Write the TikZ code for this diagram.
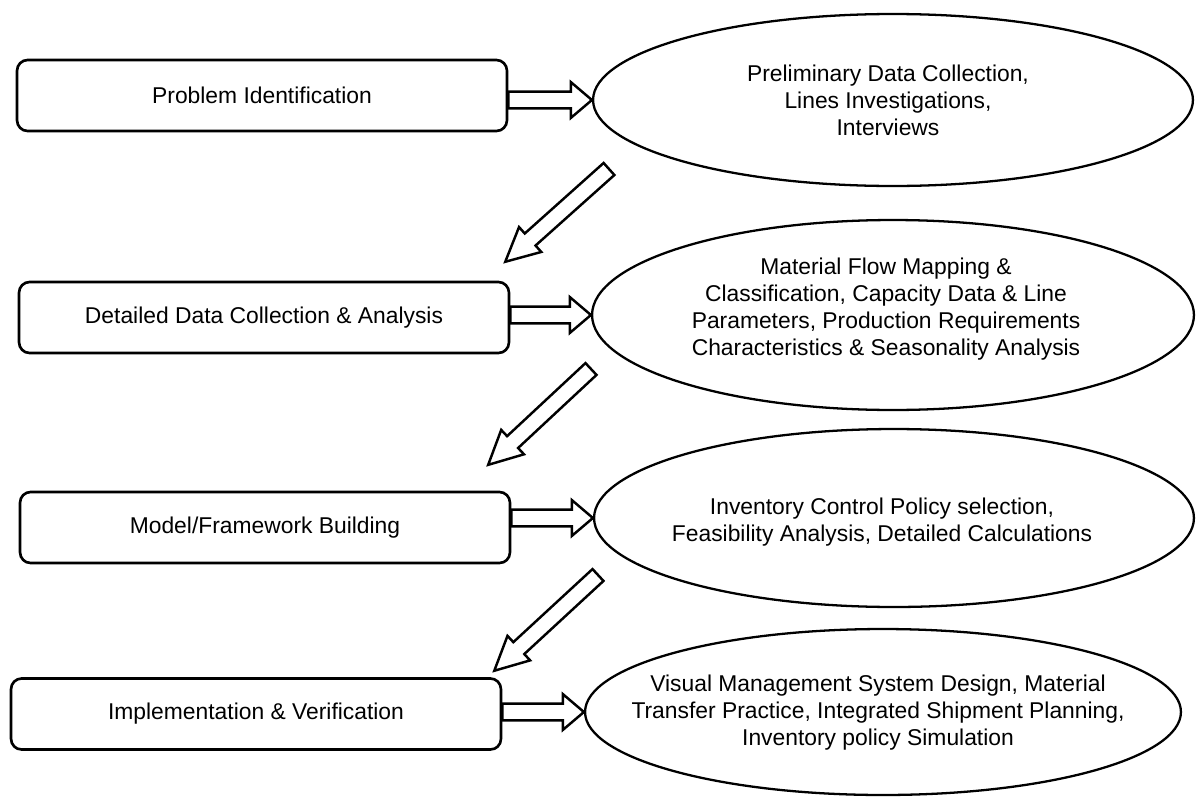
\documentclass[tikz,border=0pt]{standalone}
\usepackage{fontspec}
\setmainfont{Liberation Sans}
\usetikzlibrary{calc,shapes.geometric}

\tikzset{
  stepbox/.style={draw, line width=1.5pt, rounded corners=6pt, minimum width=9.8cm,
    minimum height=1.42cm, font=\fontsize{13}{15}\selectfont},
  topic/.style={draw, line width=1.3pt, ellipse, inner sep=0pt},
  topictext/.style={align=center, inner sep=0pt, font=\fontsize{13}{15.4}\selectfont},
  hollow/.style={draw, line width=1.4pt, line join=miter},
}

% hollow block arrow: shaft half width, head half width, head length, from, to
\newcommand{\fatarrow}[5]{%
  \draw[hollow] let \p1=(#4), \p2=(#5), \n1={atan2(\y2-\y1,\x2-\x1)},
    \n2={veclen(\x2-\x1,\y2-\y1)} in [shift={(\x1,\y1)}, rotate=\n1]
    (0pt,#1) -- ({\n2*1pt-#3},#1) -- ({\n2*1pt-#3},#2) -- (\n2*1pt,0pt)
    -- ({\n2*1pt-#3},-#2) -- ({\n2*1pt-#3},-#1) -- (0pt,-#1) -- cycle;}

\begin{document}
\begin{tikzpicture}[x=0.02cm, y=-0.02cm]
  \useasboundingbox (0,0) rectangle (1196,798);

  % steps
  \node[stepbox] (b1) at (262,95.5) {Problem Identification};
  \node[stepbox] (b2) at (264,317.5) {Detailed Data Collection \& Analysis};
  \node[stepbox] (b3) at (265,527.5) {Model/Framework Building};
  \node[stepbox] (b4) at (256,714) {Implementation \& Verification};

  % activities
  \node[topic, minimum width=12cm, minimum height=3.44cm] (e1) at (893,100) {};
  \node[topic, minimum width=12.04cm, minimum height=3.8cm] (e2) at (893,315) {};
  \node[topic, minimum width=12cm, minimum height=3.56cm] (e3) at (894,518) {};
  \node[topic, minimum width=11.92cm, minimum height=3.32cm] (e4) at (883,712) {};

  \node[topictext] (e1t) at ($(e1)+(-5,0)$)
    {Preliminary Data Collection,\\ Lines Investigations,\\ Interviews};
  \node[topictext] (e2t) at ($(e2)+(-7,-6)$)
    {Material Flow Mapping \&\\ Classification, Capacity Data \& Line\\
     Parameters, Production Requirements\\ Characteristics \& Seasonality Analysis};
  \node[topictext] (e3t) at ($(e3)+(-12,4)$)
    {Inventory Control Policy selection,\\ Feasibility Analysis, Detailed Calculations};
  \node[topictext] (e4t) at ($(e4)+(-5,1)$)
    {Visual Management System Design, Material\\ Transfer Practice, Integrated Shipment Planning,\\
     Inventory policy Simulation};

  % ends of the slanted arrows
  \coordinate (t1) at (609,169);
  \coordinate (h1) at (505,262);
  \coordinate (t2) at (591,369);
  \coordinate (h2) at (488,465);
  \coordinate (t3) at (598,575);
  \coordinate (h3) at (494,671);

  \fatarrow{4.8pt}{10.2pt}{12pt}{e1.west -| b1.east}{e1.west}
  \fatarrow{4.8pt}{10.2pt}{12pt}{e2.west -| b2.east}{e2.west}
  \fatarrow{4.8pt}{10.2pt}{12pt}{e3.west -| b3.east}{e3.west}
  \fatarrow{4.8pt}{10.2pt}{12pt}{e4.west -| b4.east}{e4.west}

  \fatarrow{4.6pt}{9.5pt}{19pt}{t1}{h1}
  \fatarrow{4.6pt}{9.5pt}{19pt}{t2}{h2}
  \fatarrow{4.6pt}{9.5pt}{19pt}{t3}{h3}
\end{tikzpicture}
\end{document}
